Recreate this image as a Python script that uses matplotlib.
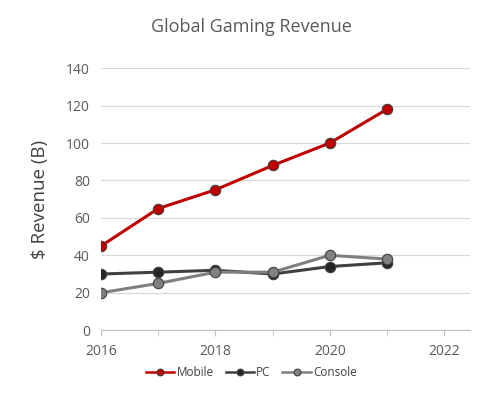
import matplotlib
matplotlib.use('Agg')
import matplotlib.pyplot as plt
from matplotlib.ticker import MultipleLocator

years = [2016, 2017, 2018, 2019, 2020, 2021]
mobile = [45, 65, 75, 88, 100, 118]
pc = [30, 31, 32, 30, 34, 36]
console = [20, 25, 31, 31, 40, 38]

plt.rcParams['font.family'] = ['Open Sans', 'DejaVu Sans']

fig = plt.figure(figsize=(5.03, 3.94), dpi=100)
ax = fig.add_axes([0.201, 0.162, 0.733, 0.665])

# series: name, values, line colour, marker colour
series = [
    ('Mobile', mobile, '#c00000', '#c00000'),
    ('PC', pc, '#404040', '#262626'),
    ('Console', console, '#7f7f7f', '#808080'),
]
for name, vals, lc, mc in series:
    ax.plot(years, vals, color=lc, lw=2.2, marker='o', ms=7.5,
            mfc=mc, mec='#404040', mew=0.8, label=name, zorder=3)

ax.set_xlim(2016, 2022.45)
ax.set_ylim(0, 140)
ax.yaxis.set_major_locator(MultipleLocator(20))
ax.xaxis.set_major_locator(MultipleLocator(2))
ax.xaxis.set_minor_locator(MultipleLocator(1))
ax.grid(axis='y', color='#d9d9d9', lw=0.9)
ax.set_axisbelow(True)
for s in ['top', 'right', 'left']:
    ax.spines[s].set_visible(False)
ax.spines['bottom'].set_color('#bfbfbf')
ax.tick_params(axis='y', length=0, colors='#595959', labelsize=10, pad=8)
ax.tick_params(axis='x', which='both', length=4, color='#bfbfbf',
               colors='#595959', labelsize=10, pad=6)
ax.tick_params(axis='x', which='minor', length=4, color='#bfbfbf')

ax.set_ylabel('$ Revenue (B)', fontsize=13.5, color='#404040', labelpad=12)
fig.suptitle('Global Gaming Revenue', fontsize=13, color='#595959', y=0.955)

leg = fig.legend(loc='center', bbox_to_anchor=(0.5, 0.055), ncol=3,
                 frameon=False, fontsize=8.5, handlelength=2.4,
                 columnspacing=1.0, handletextpad=0.2, markerscale=0.65)
for t in leg.get_texts():
    t.set_color('#404040')
for h in leg.get_lines():
    h.set_linewidth(1.8)

fig.savefig('out.png', dpi=100)
